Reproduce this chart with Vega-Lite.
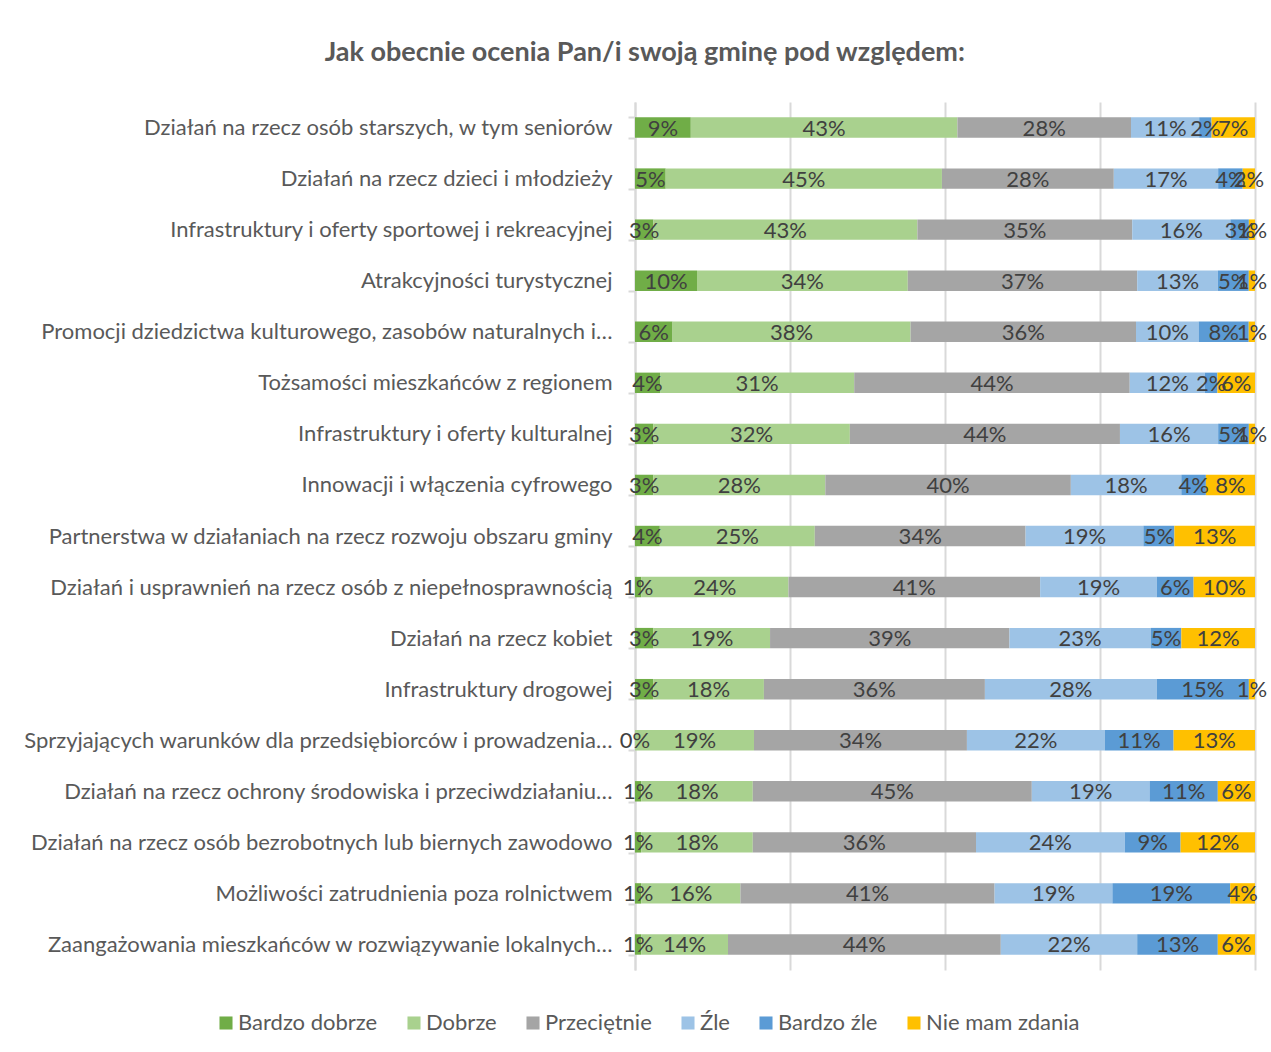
{
  "$schema": "https://vega.github.io/schema/vega-lite/v6.json",
  "width": 620,
  "height": 868,
  "autosize": {"type": "none"},
  "padding": {"left": 635, "top": 102, "right": 16, "bottom": 82},
  "background": "white",
  "config": {
    "font": "Lato",
    "view": {"stroke": null}
  },
  "title": {
    "text": "Jak obecnie ocenia Pan/i swoją gminę pod względem:",
    "fontSize": 27,
    "fontWeight": "bold",
    "color": "#595959",
    "font": "Lato",
    "anchor": "middle",
    "frame": "bounds",
    "offset": 24
  },
  "data": {
    "values": [
      {"q": "Działań na rzecz osób starszych, w tym seniorów", "a": "Bardzo dobrze", "k": 1, "v": 9},
      {"q": "Działań na rzecz osób starszych, w tym seniorów", "a": "Dobrze", "k": 2, "v": 43},
      {"q": "Działań na rzecz osób starszych, w tym seniorów", "a": "Przeciętnie", "k": 3, "v": 28},
      {"q": "Działań na rzecz osób starszych, w tym seniorów", "a": "Źle", "k": 4, "v": 11},
      {"q": "Działań na rzecz osób starszych, w tym seniorów", "a": "Bardzo źle", "k": 5, "v": 2},
      {"q": "Działań na rzecz osób starszych, w tym seniorów", "a": "Nie mam zdania", "k": 6, "v": 7},

      {"q": "Działań na rzecz dzieci i młodzieży", "a": "Bardzo dobrze", "k": 1, "v": 5},
      {"q": "Działań na rzecz dzieci i młodzieży", "a": "Dobrze", "k": 2, "v": 45},
      {"q": "Działań na rzecz dzieci i młodzieży", "a": "Przeciętnie", "k": 3, "v": 28},
      {"q": "Działań na rzecz dzieci i młodzieży", "a": "Źle", "k": 4, "v": 17},
      {"q": "Działań na rzecz dzieci i młodzieży", "a": "Bardzo źle", "k": 5, "v": 4},
      {"q": "Działań na rzecz dzieci i młodzieży", "a": "Nie mam zdania", "k": 6, "v": 2},

      {"q": "Infrastruktury i oferty sportowej i rekreacyjnej", "a": "Bardzo dobrze", "k": 1, "v": 3},
      {"q": "Infrastruktury i oferty sportowej i rekreacyjnej", "a": "Dobrze", "k": 2, "v": 43},
      {"q": "Infrastruktury i oferty sportowej i rekreacyjnej", "a": "Przeciętnie", "k": 3, "v": 35},
      {"q": "Infrastruktury i oferty sportowej i rekreacyjnej", "a": "Źle", "k": 4, "v": 16},
      {"q": "Infrastruktury i oferty sportowej i rekreacyjnej", "a": "Bardzo źle", "k": 5, "v": 3},
      {"q": "Infrastruktury i oferty sportowej i rekreacyjnej", "a": "Nie mam zdania", "k": 6, "v": 1},

      {"q": "Atrakcyjności turystycznej", "a": "Bardzo dobrze", "k": 1, "v": 10},
      {"q": "Atrakcyjności turystycznej", "a": "Dobrze", "k": 2, "v": 34},
      {"q": "Atrakcyjności turystycznej", "a": "Przeciętnie", "k": 3, "v": 37},
      {"q": "Atrakcyjności turystycznej", "a": "Źle", "k": 4, "v": 13},
      {"q": "Atrakcyjności turystycznej", "a": "Bardzo źle", "k": 5, "v": 5},
      {"q": "Atrakcyjności turystycznej", "a": "Nie mam zdania", "k": 6, "v": 1},

      {"q": "Promocji dziedzictwa kulturowego, zasobów naturalnych i…", "a": "Bardzo dobrze", "k": 1, "v": 6},
      {"q": "Promocji dziedzictwa kulturowego, zasobów naturalnych i…", "a": "Dobrze", "k": 2, "v": 38},
      {"q": "Promocji dziedzictwa kulturowego, zasobów naturalnych i…", "a": "Przeciętnie", "k": 3, "v": 36},
      {"q": "Promocji dziedzictwa kulturowego, zasobów naturalnych i…", "a": "Źle", "k": 4, "v": 10},
      {"q": "Promocji dziedzictwa kulturowego, zasobów naturalnych i…", "a": "Bardzo źle", "k": 5, "v": 8},
      {"q": "Promocji dziedzictwa kulturowego, zasobów naturalnych i…", "a": "Nie mam zdania", "k": 6, "v": 1},

      {"q": "Tożsamości mieszkańców z regionem", "a": "Bardzo dobrze", "k": 1, "v": 4},
      {"q": "Tożsamości mieszkańców z regionem", "a": "Dobrze", "k": 2, "v": 31},
      {"q": "Tożsamości mieszkańców z regionem", "a": "Przeciętnie", "k": 3, "v": 44},
      {"q": "Tożsamości mieszkańców z regionem", "a": "Źle", "k": 4, "v": 12},
      {"q": "Tożsamości mieszkańców z regionem", "a": "Bardzo źle", "k": 5, "v": 2},
      {"q": "Tożsamości mieszkańców z regionem", "a": "Nie mam zdania", "k": 6, "v": 6},

      {"q": "Infrastruktury i oferty kulturalnej", "a": "Bardzo dobrze", "k": 1, "v": 3},
      {"q": "Infrastruktury i oferty kulturalnej", "a": "Dobrze", "k": 2, "v": 32},
      {"q": "Infrastruktury i oferty kulturalnej", "a": "Przeciętnie", "k": 3, "v": 44},
      {"q": "Infrastruktury i oferty kulturalnej", "a": "Źle", "k": 4, "v": 16},
      {"q": "Infrastruktury i oferty kulturalnej", "a": "Bardzo źle", "k": 5, "v": 5},
      {"q": "Infrastruktury i oferty kulturalnej", "a": "Nie mam zdania", "k": 6, "v": 1},

      {"q": "Innowacji i włączenia cyfrowego", "a": "Bardzo dobrze", "k": 1, "v": 3},
      {"q": "Innowacji i włączenia cyfrowego", "a": "Dobrze", "k": 2, "v": 28},
      {"q": "Innowacji i włączenia cyfrowego", "a": "Przeciętnie", "k": 3, "v": 40},
      {"q": "Innowacji i włączenia cyfrowego", "a": "Źle", "k": 4, "v": 18},
      {"q": "Innowacji i włączenia cyfrowego", "a": "Bardzo źle", "k": 5, "v": 4},
      {"q": "Innowacji i włączenia cyfrowego", "a": "Nie mam zdania", "k": 6, "v": 8},

      {"q": "Partnerstwa w działaniach na rzecz rozwoju obszaru gminy", "a": "Bardzo dobrze", "k": 1, "v": 4},
      {"q": "Partnerstwa w działaniach na rzecz rozwoju obszaru gminy", "a": "Dobrze", "k": 2, "v": 25},
      {"q": "Partnerstwa w działaniach na rzecz rozwoju obszaru gminy", "a": "Przeciętnie", "k": 3, "v": 34},
      {"q": "Partnerstwa w działaniach na rzecz rozwoju obszaru gminy", "a": "Źle", "k": 4, "v": 19},
      {"q": "Partnerstwa w działaniach na rzecz rozwoju obszaru gminy", "a": "Bardzo źle", "k": 5, "v": 5},
      {"q": "Partnerstwa w działaniach na rzecz rozwoju obszaru gminy", "a": "Nie mam zdania", "k": 6, "v": 13},

      {"q": "Działań i usprawnień na rzecz osób z niepełnosprawnością", "a": "Bardzo dobrze", "k": 1, "v": 1},
      {"q": "Działań i usprawnień na rzecz osób z niepełnosprawnością", "a": "Dobrze", "k": 2, "v": 24},
      {"q": "Działań i usprawnień na rzecz osób z niepełnosprawnością", "a": "Przeciętnie", "k": 3, "v": 41},
      {"q": "Działań i usprawnień na rzecz osób z niepełnosprawnością", "a": "Źle", "k": 4, "v": 19},
      {"q": "Działań i usprawnień na rzecz osób z niepełnosprawnością", "a": "Bardzo źle", "k": 5, "v": 6},
      {"q": "Działań i usprawnień na rzecz osób z niepełnosprawnością", "a": "Nie mam zdania", "k": 6, "v": 10},

      {"q": "Działań na rzecz kobiet", "a": "Bardzo dobrze", "k": 1, "v": 3},
      {"q": "Działań na rzecz kobiet", "a": "Dobrze", "k": 2, "v": 19},
      {"q": "Działań na rzecz kobiet", "a": "Przeciętnie", "k": 3, "v": 39},
      {"q": "Działań na rzecz kobiet", "a": "Źle", "k": 4, "v": 23},
      {"q": "Działań na rzecz kobiet", "a": "Bardzo źle", "k": 5, "v": 5},
      {"q": "Działań na rzecz kobiet", "a": "Nie mam zdania", "k": 6, "v": 12},

      {"q": "Infrastruktury drogowej", "a": "Bardzo dobrze", "k": 1, "v": 3},
      {"q": "Infrastruktury drogowej", "a": "Dobrze", "k": 2, "v": 18},
      {"q": "Infrastruktury drogowej", "a": "Przeciętnie", "k": 3, "v": 36},
      {"q": "Infrastruktury drogowej", "a": "Źle", "k": 4, "v": 28},
      {"q": "Infrastruktury drogowej", "a": "Bardzo źle", "k": 5, "v": 15},
      {"q": "Infrastruktury drogowej", "a": "Nie mam zdania", "k": 6, "v": 1},

      {"q": "Sprzyjających warunków dla przedsiębiorców i prowadzenia…", "a": "Bardzo dobrze", "k": 1, "v": 0},
      {"q": "Sprzyjających warunków dla przedsiębiorców i prowadzenia…", "a": "Dobrze", "k": 2, "v": 19},
      {"q": "Sprzyjających warunków dla przedsiębiorców i prowadzenia…", "a": "Przeciętnie", "k": 3, "v": 34},
      {"q": "Sprzyjających warunków dla przedsiębiorców i prowadzenia…", "a": "Źle", "k": 4, "v": 22},
      {"q": "Sprzyjających warunków dla przedsiębiorców i prowadzenia…", "a": "Bardzo źle", "k": 5, "v": 11},
      {"q": "Sprzyjających warunków dla przedsiębiorców i prowadzenia…", "a": "Nie mam zdania", "k": 6, "v": 13},

      {"q": "Działań na rzecz ochrony środowiska i przeciwdziałaniu…", "a": "Bardzo dobrze", "k": 1, "v": 1},
      {"q": "Działań na rzecz ochrony środowiska i przeciwdziałaniu…", "a": "Dobrze", "k": 2, "v": 18},
      {"q": "Działań na rzecz ochrony środowiska i przeciwdziałaniu…", "a": "Przeciętnie", "k": 3, "v": 45},
      {"q": "Działań na rzecz ochrony środowiska i przeciwdziałaniu…", "a": "Źle", "k": 4, "v": 19},
      {"q": "Działań na rzecz ochrony środowiska i przeciwdziałaniu…", "a": "Bardzo źle", "k": 5, "v": 11},
      {"q": "Działań na rzecz ochrony środowiska i przeciwdziałaniu…", "a": "Nie mam zdania", "k": 6, "v": 6},

      {"q": "Działań na rzecz osób bezrobotnych lub biernych zawodowo", "a": "Bardzo dobrze", "k": 1, "v": 1},
      {"q": "Działań na rzecz osób bezrobotnych lub biernych zawodowo", "a": "Dobrze", "k": 2, "v": 18},
      {"q": "Działań na rzecz osób bezrobotnych lub biernych zawodowo", "a": "Przeciętnie", "k": 3, "v": 36},
      {"q": "Działań na rzecz osób bezrobotnych lub biernych zawodowo", "a": "Źle", "k": 4, "v": 24},
      {"q": "Działań na rzecz osób bezrobotnych lub biernych zawodowo", "a": "Bardzo źle", "k": 5, "v": 9},
      {"q": "Działań na rzecz osób bezrobotnych lub biernych zawodowo", "a": "Nie mam zdania", "k": 6, "v": 12},

      {"q": "Możliwości zatrudnienia poza rolnictwem", "a": "Bardzo dobrze", "k": 1, "v": 1},
      {"q": "Możliwości zatrudnienia poza rolnictwem", "a": "Dobrze", "k": 2, "v": 16},
      {"q": "Możliwości zatrudnienia poza rolnictwem", "a": "Przeciętnie", "k": 3, "v": 41},
      {"q": "Możliwości zatrudnienia poza rolnictwem", "a": "Źle", "k": 4, "v": 19},
      {"q": "Możliwości zatrudnienia poza rolnictwem", "a": "Bardzo źle", "k": 5, "v": 19},
      {"q": "Możliwości zatrudnienia poza rolnictwem", "a": "Nie mam zdania", "k": 6, "v": 4},

      {"q": "Zaangażowania mieszkańców w rozwiązywanie lokalnych…", "a": "Bardzo dobrze", "k": 1, "v": 1},
      {"q": "Zaangażowania mieszkańców w rozwiązywanie lokalnych…", "a": "Dobrze", "k": 2, "v": 14},
      {"q": "Zaangażowania mieszkańców w rozwiązywanie lokalnych…", "a": "Przeciętnie", "k": 3, "v": 44},
      {"q": "Zaangażowania mieszkańców w rozwiązywanie lokalnych…", "a": "Źle", "k": 4, "v": 22},
      {"q": "Zaangażowania mieszkańców w rozwiązywanie lokalnych…", "a": "Bardzo źle", "k": 5, "v": 13},
      {"q": "Zaangażowania mieszkańców w rozwiązywanie lokalnych…", "a": "Nie mam zdania", "k": 6, "v": 6}
    ]
  },
  "encoding": {
    "y": {
      "field": "q",
      "type": "nominal",
      "sort": null,
      "title": null,
      "scale": {"paddingInner": 0.6, "paddingOuter": 0.3},
      "axis": {
        "labelFont": "Lato",
        "labelFontSize": 22,
        "labelColor": "#595959",
        "labelLimit": 700,
        "labelPadding": 16,
        "tickBand": "extent",
        "tickSize": 7,
        "tickWidth": 2,
        "tickColor": "#d9d9d9",
        "domainColor": "#d9d9d9",
        "domainWidth": 2,
        "grid": false
      }
    }
  },
  "layer": [
    {
      "mark": {"type": "bar"},
      "encoding": {
        "x": {
          "field": "v",
          "type": "quantitative",
          "stack": "normalize",
          "title": null,
          "scale": {"domain": [0, 1], "nice": false},
          "axis": {
            "values": [0, 0.25, 0.5, 0.75, 1],
            "labels": false,
            "ticks": false,
            "domain": false,
            "grid": true,
            "gridColor": "#d9d9d9",
            "gridWidth": 2
          }
        },
        "color": {
          "field": "a",
          "type": "nominal",
          "sort": ["Bardzo dobrze", "Dobrze", "Przeciętnie", "Źle", "Bardzo źle", "Nie mam zdania"],
          "scale": {
            "domain": ["Bardzo dobrze", "Dobrze", "Przeciętnie", "Źle", "Bardzo źle", "Nie mam zdania"],
            "range": ["#70AD47", "#A9D18E", "#A5A5A5", "#9DC3E6", "#5B9BD5", "#FFC000"]
          },
          "legend": {
            "orient": "none",
            "legendX": -420,
            "legendY": 910,
            "direction": "horizontal",
            "title": null,
            "symbolType": "square",
            "symbolSize": 170,
            "symbolStrokeWidth": 0,
            "labelFont": "Lato",
            "labelFontSize": 22,
            "labelColor": "#595959",
            "columnPadding": 25,
            "labelOffset": 1
          }
        },
        "order": {"field": "k", "type": "quantitative", "sort": "ascending"}
      }
    },
    {
      "mark": {
        "type": "text",
        "align": "center",
        "baseline": "middle",
        "font": "Lato",
        "fontSize": 22,
        "color": "#404040",
        "dy": 1,
        "text": {"expr": "datum.v + '%'"}
      },
      "encoding": {
        "x": {"field": "v", "type": "quantitative", "stack": "normalize", "bandPosition": 0.5},
        "detail": {"field": "a", "type": "nominal"},
        "order": {"field": "k", "type": "quantitative", "sort": "ascending"}
      }
    }
  ]
}
